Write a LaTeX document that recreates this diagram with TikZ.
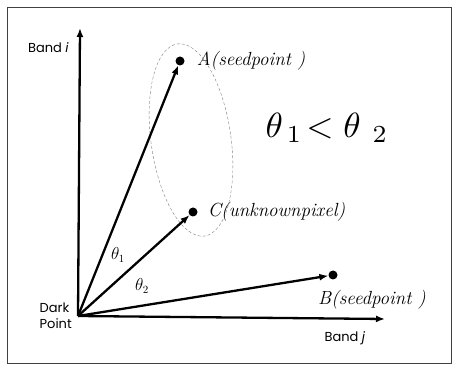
\documentclass[tikz,border=0pt]{standalone}
\usepackage{amsmath}
\usepackage{amssymb}
\usepackage{fontspec}
\newfontfamily\axisfont{Poppins}
\usetikzlibrary{shapes.geometric, arrows.meta, positioning}

\begin{document}
\begin{tikzpicture}[x=10pt, y=10pt,
    vec/.style={-{Latex[length=9pt,width=7pt]}, line width=2.3pt},
    dot/.style={circle, fill=black, inner sep=0pt, minimum size=9pt},
    axlbl/.style={font=\axisfont\fontsize{13}{16}\selectfont, inner sep=0pt},
    ptlbl/.style={font=\itshape\fontsize{19}{22}\selectfont, inner sep=0pt},
    anglbl/.style={font=\fontsize{16}{18}\selectfont, inner sep=0pt}]
        \useasboundingbox (-7.8,-5.0) rectangle (37.6,31.6);
        % Frame
        \draw[line width=0.7pt, black!75] (-7.1,-4.7) rectangle (37.3,30.9);

        % Axes
        \coordinate (O) at (0,0);
        \coordinate (yend) at (0.2,28.8);
        \coordinate (xend) at (30.7,-0.3);
        \draw[vec] (O) -- (yend);
        \draw[vec] (O) -- (xend);
        \node[axlbl, anchor=east] (bandi) at (-0.9,26.8) {Band \textit{i}};
        \node[axlbl] (bandj) at (26.7,-2.2) {Band \textit{j}};
        \node[axlbl, align=left, left=6pt of O] (dark) {Dark\\Point};

        % Cluster around the seed point
        \draw[gray, densely dashed, line width=0.4pt, rotate around={8:(11.3,17.6)}]
            (11.3,17.6) ellipse (4.0 and 9.7);

        % Pixel vectors
        \node[dot] (A) at (10.2,25.5) {};
        \node[dot] (C) at (11.5,10.4) {};
        \node[dot] (B) at (25.5,4.1) {};
        \draw[vec] (O) -- (A);
        \draw[vec] (O) -- (C);
        \draw[vec] (O) -- (B);

        % Annotations
        \node[ptlbl, right=12pt of A] (Alab) {A(seedpoint )};
        \node[ptlbl, right=10pt of C] (Clab) {C(unknownpixel)};
        \node[ptlbl, anchor=north west] (Blab) at ([xshift=-15pt, yshift=-15pt]B.center) {B(seedpoint )};
        \node[anglbl] (t1) at (4.0,6.1) {$\theta_1$};
        \node[anglbl] (t2) at (6.4,3.0) {$\theta_2$};
        \node[scale=3.5] (cmp) at (24.9,18.8) {$\theta_{\,1}\!<\theta_{\;\,2}$};
      \end{tikzpicture}
\end{document}
